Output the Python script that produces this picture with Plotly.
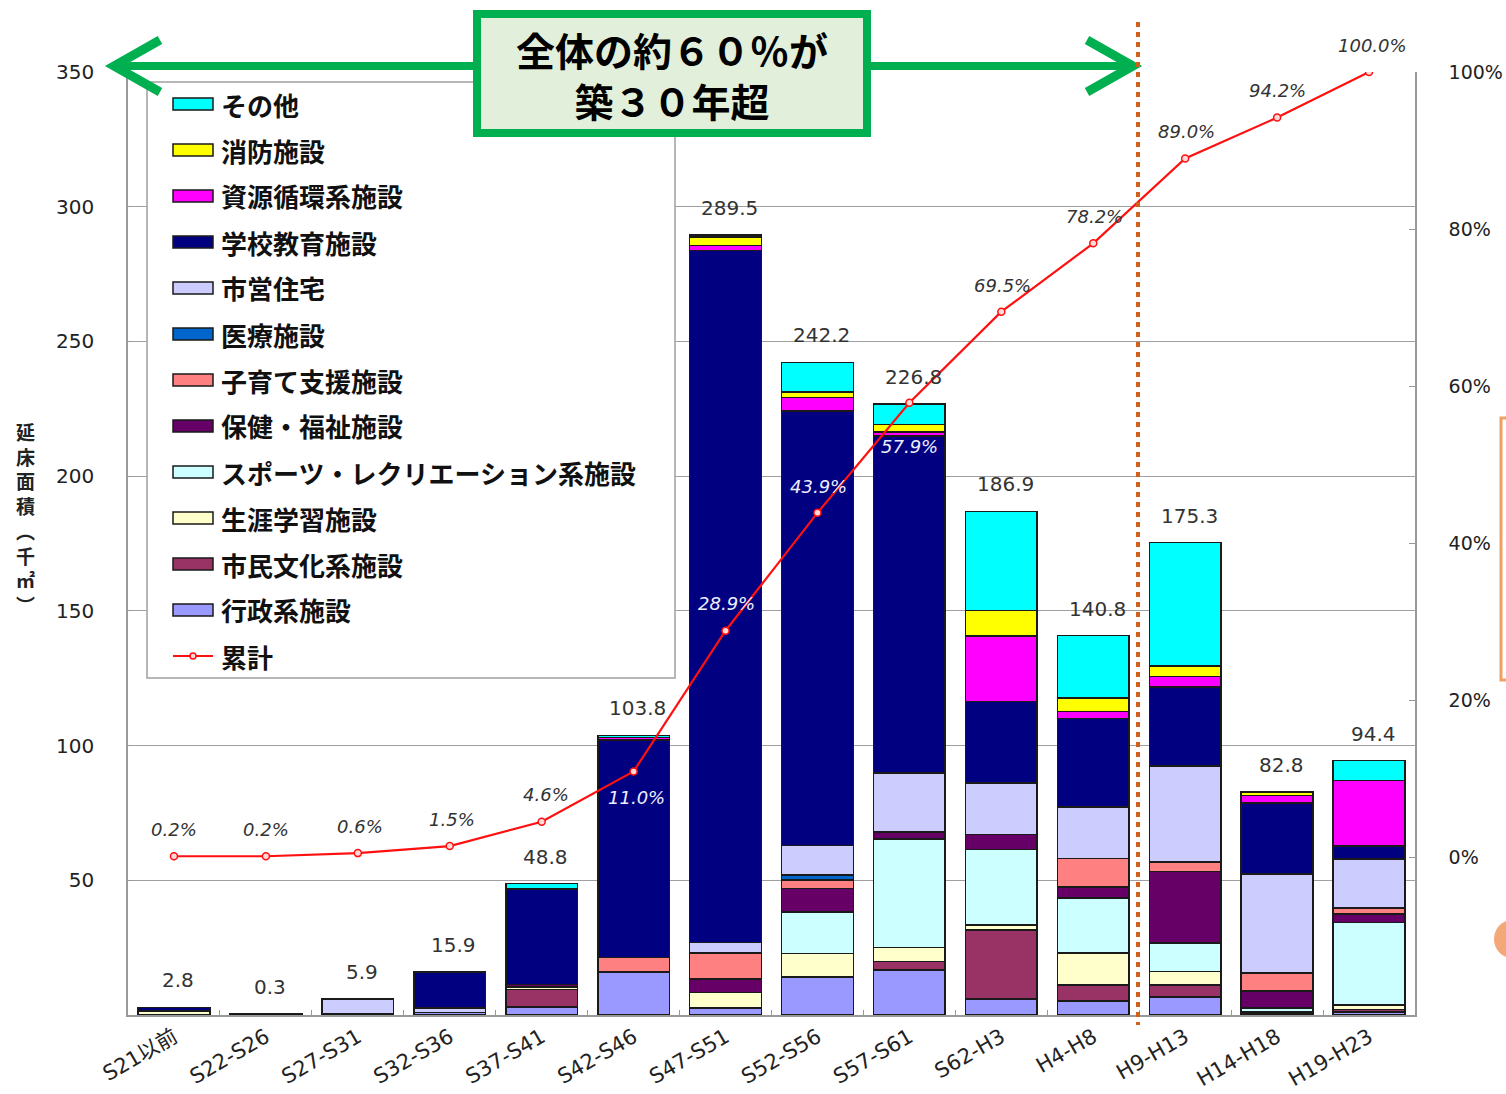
import plotly.graph_objects as go

# ---------------- data ----------------
categories = ["S21以前", "S22-S26", "S27-S31", "S32-S36", "S37-S41", "S42-S46", "S47-S51",
              "S52-S56", "S57-S61", "S62-H3", "H4-H8", "H9-H13", "H14-H18", "H19-H23"]

# stacked from bottom to top
gyosei    = [0.0, 0.0, 0.0, 1.0, 3.0, 16.0, 2.5, 14.2, 16.8, 5.9, 5.3, 6.6, 0.6, 1.2]      # 行政系施設
shimin    = [0.0, 0.0, 0.6, 0.0, 6.5, 0.0, 0.0, 0.0, 3.0, 25.6, 5.8, 4.5, 0.6, 0.9]       # 市民文化系施設
shogai    = [1.5, 0.0, 0.0, 0.0, 1.0, 0.0, 5.8, 8.7, 5.3, 1.9, 11.9, 5.1, 0.0, 1.6]       # 生涯学習施設
sports    = [0.0, 0.0, 0.0, 0.0, 0.0, 0.0, 0.0, 15.4, 40.2, 28.1, 20.5, 10.5, 1.3, 30.6]  # スポーツ・レクリエーション系施設
hoken     = [0.0, 0.0, 0.0, 0.0, 0.8, 0.0, 5.0, 8.7, 2.6, 5.5, 4.1, 26.6, 6.5, 3.1]       # 保健・福祉施設
kosodate  = [0.0, 0.0, 0.0, 0.0, 0.0, 5.4, 9.7, 3.1, 0.0, 0.0, 10.5, 3.5, 6.5, 2.4]      # 子育て支援施設
iryo      = [0.0, 0.0, 0.0, 0.0, 0.0, 0.0, 0.0, 1.9, 0.0, 0.0, 0.0, 0.0, 0.0, 0.0]        # 医療施設
shiei     = [0.0, 0.0, 5.3, 1.5, 0.0, 0.0, 3.9, 10.9, 22.0, 19.2, 19.2, 35.6, 36.8, 18.0] # 市営住宅
gakko     = [1.3, 0.3, 0.0, 13.4, 35.5, 80.6, 256.8, 161.3, 125.0, 30.1, 32.8, 29.4, 26.3, 4.9]  # 学校教育施設
shigen    = [0.0, 0.0, 0.0, 0.0, 0.0, 1.0, 1.9, 5.0, 1.5, 24.4, 2.6, 3.8, 2.9, 24.3]     # 資源循環系施設
shobo     = [0.0, 0.0, 0.0, 0.0, 0.0, 0.0, 3.1, 2.1, 2.7, 9.5, 5.0, 3.9, 1.3, 0.0]       # 消防施設
sonota    = [0.0, 0.0, 0.0, 0.0, 2.0, 0.8, 0.8, 10.9, 7.7, 36.7, 23.1, 45.8, 0.0, 7.4]   # その他

totals = [2.8, 0.3, 5.9, 15.9, 48.8, 103.8, 289.5, 242.2, 226.8, 186.9, 140.8, 175.3, 82.8, 94.4]
cumulative_pct = [0.2, 0.2, 0.6, 1.5, 4.6, 11.0, 28.9, 43.9, 57.9, 69.5, 78.2, 89.0, 94.2, 100.0]

series_names = ["行政系施設", "市民文化系施設", "生涯学習施設", "スポーツ・レクリエーション系施設",
                "保健・福祉施設", "子育て支援施設", "医療施設", "市営住宅", "学校教育施設",
                "資源循環系施設", "消防施設", "その他"]
series_values = [gyosei, shimin, shogai, sports, hoken, kosodate, iryo, shiei, gakko, shigen, shobo, sonota]
line_name = "累計"

left_ticks = [50, 100, 150, 200, 250, 300, 350]
right_ticks = [0, 20, 40, 60, 80, 100]
right_tick_text = ["0%", "20%", "40%", "60%", "80%", "100%"]
y_title = ["延", "床", "面", "積", "︵", "千", "㎡", "︶"]
banner_lines = ["全体の約６０％が", "築３０年超"]

# ---------------- styles ----------------
series_colors = ["#9999FF", "#993366", "#FFFFCC", "#CCFFFF", "#660066", "#FF8080",
                 "#0066CC", "#CCCCFF", "#000080", "#FF00FF", "#FFFF00", "#00FFFF"]
# label offsets (px) for cumulative % labels and colours
pct_yshift = [27, 27, 27, 27, 27, -26, 27, 26, -44, 26, 27, 27, 27, 27]
pct_xshift = [0, 0, 2, 2, 4, 3, 1, 1, 0, 1, 1, 1, 0, 3]
pct_inside = [False, False, False, False, False, True, True, True, True, False, False, False, False, False]

W, H = 1506, 1094
L, R, T, B = 128, 1415, 72, 1015


def px(x):
    return (x - L) / (R - L)


def py(y):
    return (B - y) / (B - T)


NUM = "DejaVu Sans, Liberation Sans, Noto Sans CJK JP, sans-serif"
CJK = "Noto Sans CJK JP, sans-serif"

fig = go.Figure()
for name, vals, col in zip(series_names, series_values, series_colors):
    fig.add_trace(go.Bar(x=categories, y=vals, name=name, showlegend=False,
                         marker=dict(color=col, line=dict(color="#1a1a1a", width=1.6))))

fig.add_trace(go.Scatter(x=categories, y=cumulative_pct, yaxis="y2", name=line_name,
                         mode="lines+markers", showlegend=False,
                         line=dict(color="#FF1010", width=2.2),
                         marker=dict(size=7, color="#FFD8D8", line=dict(color="#FF1010", width=1.5))))

annotations = []
# bar totals
for c, t in zip(categories, totals):
    annotations.append(dict(x=c, y=t, xref="x", yref="y", text=f"{t:.1f}", showarrow=False,
                            yshift=27, xshift=4, font=dict(size=20, color="#333333", family=NUM)))
# cumulative labels
for i, (c, p) in enumerate(zip(categories, cumulative_pct)):
    annotations.append(dict(x=c, y=p, xref="x", yref="y2", text=f"{p:.1f}%", showarrow=False,
                            yshift=pct_yshift[i], xshift=pct_xshift[i],
                            font=dict(size=18, color="#EEEEFF" if pct_inside[i] else "#333333",
                                      family=NUM, style="italic")))
# y-axis title (vertical)
annotations.append(dict(x=px(25), y=py(518), xref="paper", yref="paper", showarrow=False,
                        xanchor="center", yanchor="middle",
                        text="<br>".join(f"<b>{ch}</b>" for ch in y_title),
                        font=dict(size=19, color="#222222", family=CJK), align="center"))
# banner text
annotations.append(dict(x=px(672), y=py(74), xref="paper", yref="paper", showarrow=False,
                        xanchor="center", yanchor="middle",
                        text="<br>".join(f"<b>{s}</b>" for s in banner_lines),
                        font=dict(size=39, color="#000000", family=CJK), align="center"))

shapes = []
# legend box
shapes.append(dict(type="rect", xref="paper", yref="paper", x0=px(147), x1=px(675), y0=py(82), y1=py(678),
                   line=dict(color="#A0A0A0", width=1.5), fillcolor="white", layer="above"))
legend_order = list(range(len(series_names) - 1, -1, -1))
for k, idx in enumerate(legend_order):
    yc = 104 + 46 * k
    shapes.append(dict(type="rect", xref="paper", yref="paper", x0=px(173), x1=px(213),
                       y0=py(yc + 6), y1=py(yc - 6), fillcolor=series_colors[idx],
                       line=dict(color="#1a1a1a", width=1.5), layer="above"))
    annotations.append(dict(x=px(219), y=py(yc), xref="paper", yref="paper", xanchor="left",
                            yanchor="middle", showarrow=False, text=f"<b>{series_names[idx]}</b>",
                            font=dict(size=26, color="#111111", family=CJK)))
yc = 104 + 46 * len(series_names)
shapes.append(dict(type="line", xref="paper", yref="paper", x0=px(173), x1=px(213), y0=py(yc), y1=py(yc),
                   line=dict(color="#FF1010", width=2), layer="above"))
shapes.append(dict(type="circle", xref="paper", yref="paper", x0=px(190), x1=px(196), y0=py(yc + 3), y1=py(yc - 3),
                   line=dict(color="#FF1010", width=1.5), fillcolor="#FFD8D8", layer="above"))
annotations.append(dict(x=px(219), y=py(yc), xref="paper", yref="paper", xanchor="left", yanchor="middle",
                        showarrow=False, text=f"<b>{line_name}</b>",
                        font=dict(size=26, color="#111111", family=CJK)))

# green double arrow
G = "#00B050"
shapes.append(dict(type="line", xref="paper", yref="paper", x0=px(116), x1=px(1130), y0=py(66), y1=py(66),
                   line=dict(color=G, width=8), layer="above"))
shapes.append(dict(type="path", xref="paper", yref="paper",
                   path=f"M {px(160)},{py(40)} L {px(114)},{py(66)} L {px(160)},{py(92)}",
                   line=dict(color=G, width=9), layer="above"))
shapes.append(dict(type="path", xref="paper", yref="paper",
                   path=f"M {px(1087)},{py(40)} L {px(1133)},{py(66)} L {px(1087)},{py(92)}",
                   line=dict(color=G, width=9), layer="above"))
# banner box
shapes.append(dict(type="rect", xref="paper", yref="paper", x0=px(477), x1=px(867), y0=py(14), y1=py(133),
                   line=dict(color=G, width=8), fillcolor="#E2EFDA", layer="above"))
# orange dotted divider
shapes.append(dict(type="line", xref="paper", yref="paper", x0=px(1138), x1=px(1138), y0=py(22), y1=py(1025),
                   line=dict(color="#D2601A", width=4, dash="5px,5px"), layer="above"))
# cropped shapes on right edge
shapes.append(dict(type="rect", xref="paper", yref="paper", x0=px(1501), x1=px(1580), y0=py(418), y1=py(680),
                   line=dict(color="#F0A060", width=3), fillcolor="rgba(0,0,0,0)", layer="above"))
shapes.append(dict(type="circle", xref="paper", yref="paper", x0=px(1494), x1=px(1530), y0=py(920), y1=py(958),
                   line=dict(color="#F3A878", width=0), fillcolor="#F3A878", layer="above"))

fig.update_layout(
    width=W, height=H,
    margin=dict(l=L, r=W - R, t=T, b=H - B, autoexpand=False),
    barmode="stack", bargap=0.22,
    plot_bgcolor="white", paper_bgcolor="white",
    font=dict(family=NUM, color="#222222"),
    showlegend=False,
    xaxis=dict(type="category", range=[-0.5, len(categories) - 0.5], autorange=False, automargin=False,
               showgrid=False, showline=True, linecolor="#999999", linewidth=1.5,
               ticks="inside", tickson="boundaries", ticklen=5, tickcolor="#999999", tickangle=-30,
               tickfont=dict(size=21, family=NUM, color="#222222")),
    yaxis=dict(range=[0, 350], tickvals=left_ticks, showgrid=True, gridcolor="#A0A0A0", gridwidth=1,
               automargin=False,
               showline=True, linecolor="#999999", linewidth=1.5, ticks="inside", ticklen=5,
               tickcolor="#999999", tickfont=dict(size=20, family=NUM, color="#222222"),
               ticklabelstandoff=28, zeroline=False),
    yaxis2=dict(overlaying="y", side="right", range=[-20, 100], tickvals=right_ticks, ticktext=right_tick_text,
                automargin=False,
                showgrid=False, showline=True, linecolor="#999999", linewidth=1.5, ticks="inside",
                ticklen=6, tickcolor="#999999", tickfont=dict(size=19, family=NUM, color="#222222"),
                ticklabelstandoff=28, zeroline=False),
    annotations=annotations,
    shapes=shapes,
)

fig.write_html("out.html")
